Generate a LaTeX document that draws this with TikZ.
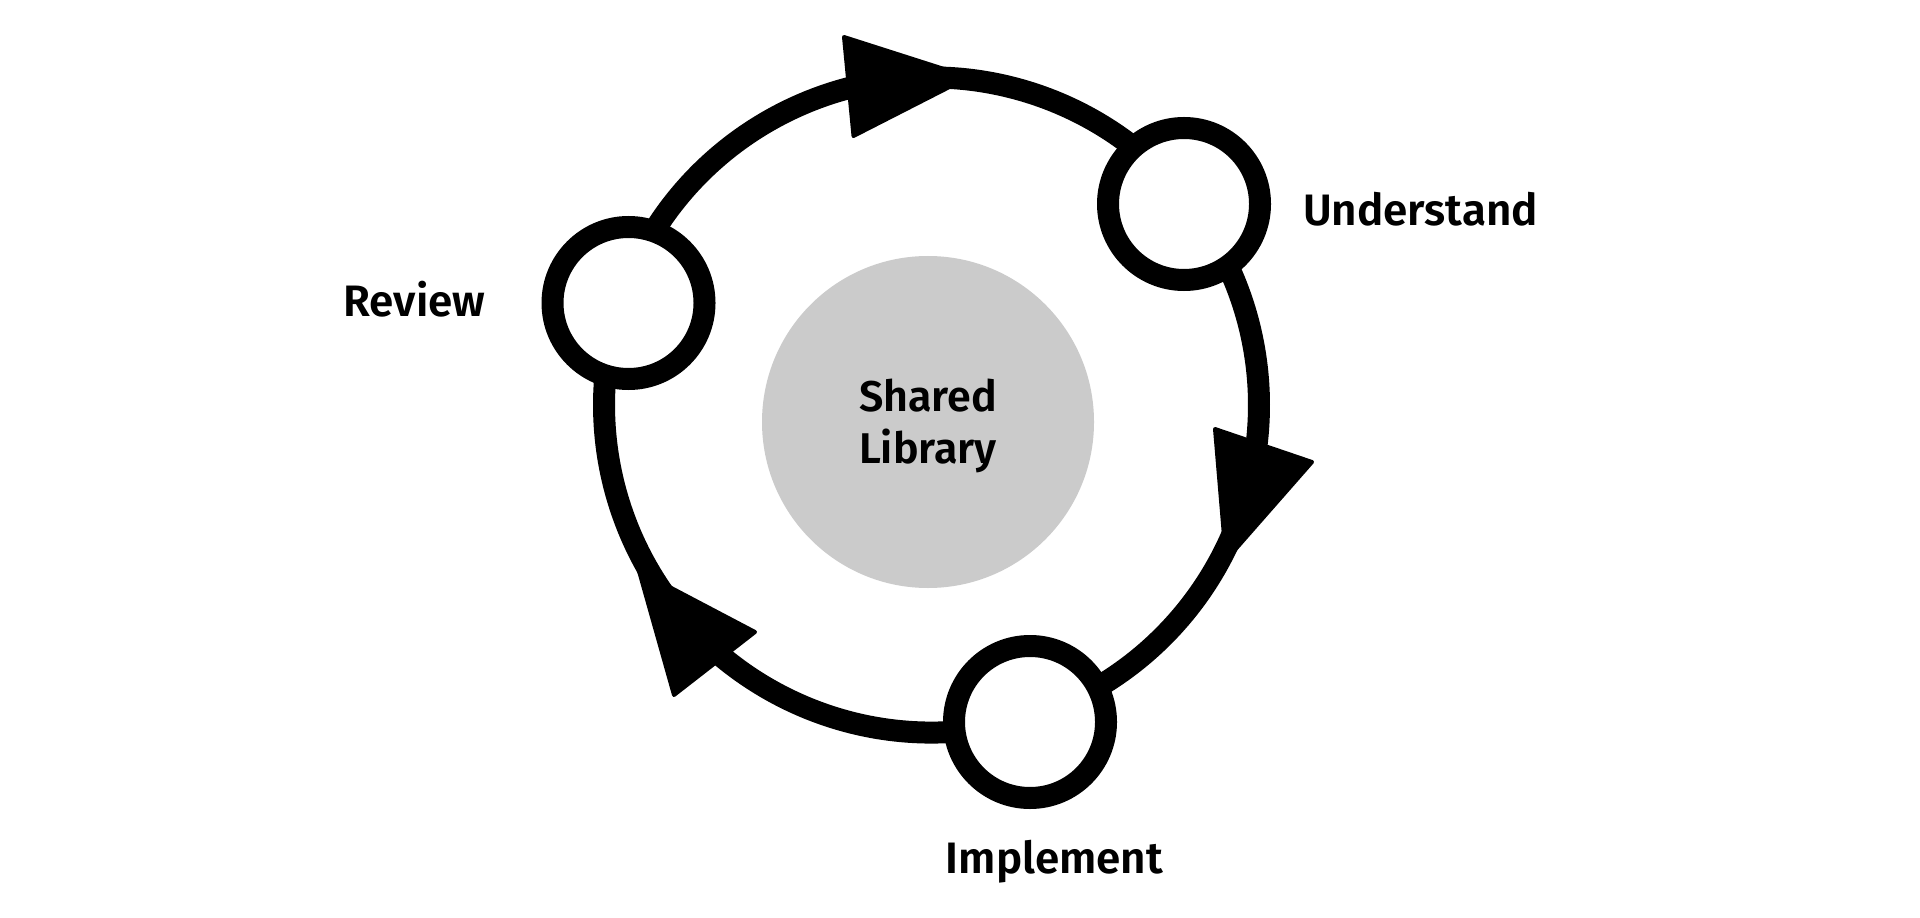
\documentclass[tikz,border=0pt]{standalone}
\usepackage{fontspec}
\setmainfont{Fira Sans}[BoldFont={Fira Sans SemiBold}]
\usetikzlibrary{arrows.meta}
\pgfdeclarelayer{background}
\pgfsetlayers{background,main}
\definecolor{hubgray}{HTML}{CBCBCB}
\begin{document}
\begin{tikzpicture}[x=0.5pt,y=0.5pt,
  stage/.style={circle,draw=black,line width=11pt,fill=white,minimum size=76pt,inner sep=0pt},
  hub/.style={circle,fill=hubgray,minimum size=166pt,inner sep=0pt},
  lbl/.style={font=\bfseries\fontsize{22}{26}\selectfont,anchor=base},
  ring/.style={line width=11pt,draw=black},
  head/.style={fill=black,draw=black,line width=2pt,line join=round}
]
\useasboundingbox (0,0) rectangle (1920,917);
\coordinate (c) at (931.5,512);
\node[hub,label={[name=hubtext,align=center,yshift=-2.1pt,font=\bfseries\fontsize{21.5}{26}\selectfont]center:Shared\\Library}] (hub) at (928,495) {};
\node[stage] (rev) at (628.5,614) {};
\node[stage] (und) at (1184,713) {};
\node[stage] (imp) at (1030,195) {};
\coordinate (revring) at ([shift={(161.4:327.5)}]c);
\coordinate (undring) at ([shift={(38.5:327.5)}]c);
\coordinate (impring) at ([shift={(-72.7:327.5)}]c);
\begin{pgfonlayer}{background}
\fill[white] (0,0) rectangle (1920,917);
\draw[ring] (revring) arc[start angle=161.4,end angle=38.5,radius=327.5];
\draw[ring] (undring) arc[start angle=38.5,end angle=-72.7,radius=327.5];
\draw[ring] (impring) arc[start angle=-72.7,end angle=-198.6,radius=327.5];
\filldraw[head] (844,880) -- (853.5,781) -- (969,840) -- cycle;
\filldraw[head] (1215,488) -- (1312,455) -- (1226,357) -- cycle;
\filldraw[head] (674,222) -- (755,285) -- (639,346) -- cycle;
\end{pgfonlayer}
\node[lbl] (lrev) at (414.5,600) {Review};
\node[lbl] (lund) at (1420.5,691) {Understand};
\node[lbl] (limp) at (1054.5,44) {Implement};
\end{tikzpicture}
\end{document}
